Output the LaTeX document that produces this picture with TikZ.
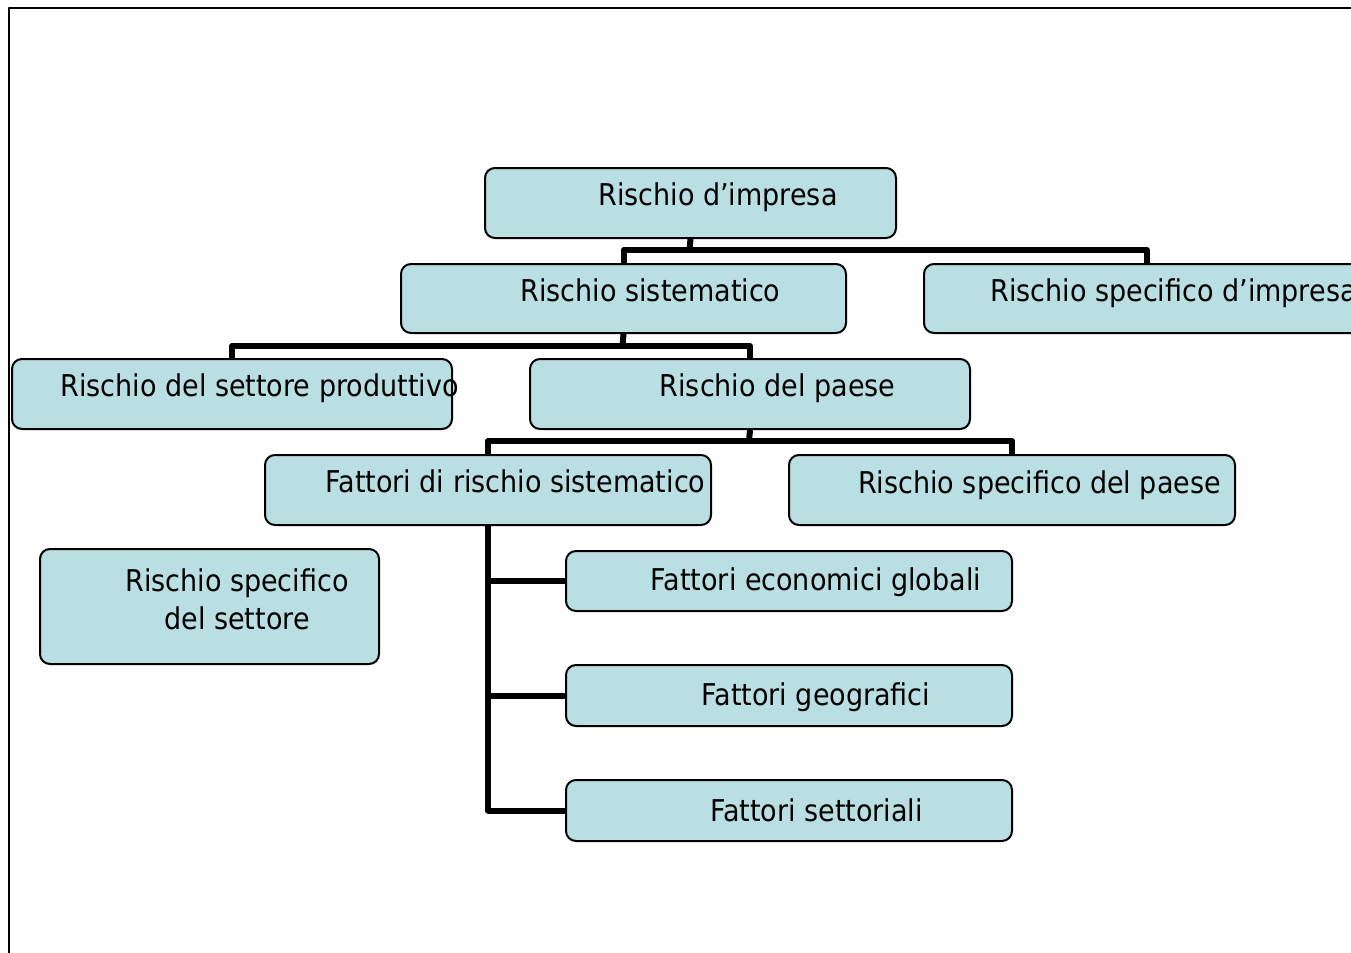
\documentclass[tikz,border=0pt]{standalone}
\usepackage{fontspec}
\setmainfont{DejaVu Sans Condensed}
\definecolor{boxblue}{RGB}{185,223,227}
\begin{document}
\begin{tikzpicture}[x=0.5pt,y=-0.5pt,line join=round,font=\fontsize{15}{19}\selectfont,
    box/.style={draw,line width=1pt,rounded corners=5pt,fill=boxblue,anchor=north west,inner sep=0pt},
    txt/.style={anchor=base,inner sep=0pt,align=center},
    conn/.style={line width=3pt}]
    \useasboundingbox (0,0) rectangle (1351,953);
    \clip (0,0) rectangle (1351,953);
    \draw[line width=1pt] (9,953)--(9,8)--(1351,8);
    % boxes
    \node[box,minimum width=205.5pt,minimum height=35pt] (imp) at (484,167) {};
    \node[box,minimum width=222.5pt,minimum height=34.5pt] (sis) at (400,263) {};
    \node[box,minimum width=223pt,minimum height=34.5pt] (spi) at (923,263) {};
    \node[box,minimum width=220pt,minimum height=35pt] (set) at (11,358) {};
    \node[box,minimum width=220pt,minimum height=35pt] (pae) at (529,358) {};
    \node[box,minimum width=223pt,minimum height=35pt] (fat) at (264,454) {};
    \node[box,minimum width=223pt,minimum height=35pt] (spp) at (788,454) {};
    \node[box,minimum width=169.5pt,minimum height=57.5pt] (sps) at (39,548) {};
    \node[box,minimum width=223pt,minimum height=30pt] (feco) at (565,550) {};
    \node[box,minimum width=223pt,minimum height=30.5pt] (fgeo) at (565,664) {};
    \node[box,minimum width=223pt,minimum height=30.5pt] (fset) at (565,779) {};
    % labels
    \node[txt] (timp) at (718,205) {Rischio d’impresa};
    \node[txt] (tsis) at (650.5,301) {Rischio sistematico};
    \node[txt,anchor=base west] (tspi) at (990,301) {Rischio specifico d’impresa};
    \node[txt] (tset) at (259.5,396) {Rischio del settore produttivo};
    \node[txt] (tpae) at (777.5,396) {Rischio del paese};
    \node[txt] (tfat) at (515.5,492) {Fattori di rischio sistematico};
    \node[txt] (tspp) at (1039.5,493) {Rischio specifico del paese};
    \node[txt] (tsps) at (237,629) {Rischio specifico\\del settore};
    \node[txt] (tfeco) at (816,590) {Fattori economici globali};
    \node[txt] (tfgeo) at (816,705) {Fattori geografici};
    \node[txt] (tfset) at (816.5,821) {Fattori settoriali};
    % connectors
    \coordinate (j1) at (689.5,250);
    \coordinate (j2) at (622.5,346);
    \coordinate (j3) at (749,441);
    \draw[conn] (imp.south)--(j1);
    \draw[conn] (sis.north) |- (j1) -| (spi.north);
    \draw[conn] (sis.south)--(j2);
    \draw[conn] (set.north) |- (j2) -| (pae.north);
    \draw[conn] (pae.south)--(j3);
    \draw[conn] (fat.north) |- (j3) -| (spp.north);
    \draw[conn] (fat.south) |- (fset.west);
    \draw[conn] (fat.south |- feco.west)--(feco.west);
    \draw[conn] (fat.south |- fgeo.west)--(fgeo.west);
\end{tikzpicture}
\end{document}
